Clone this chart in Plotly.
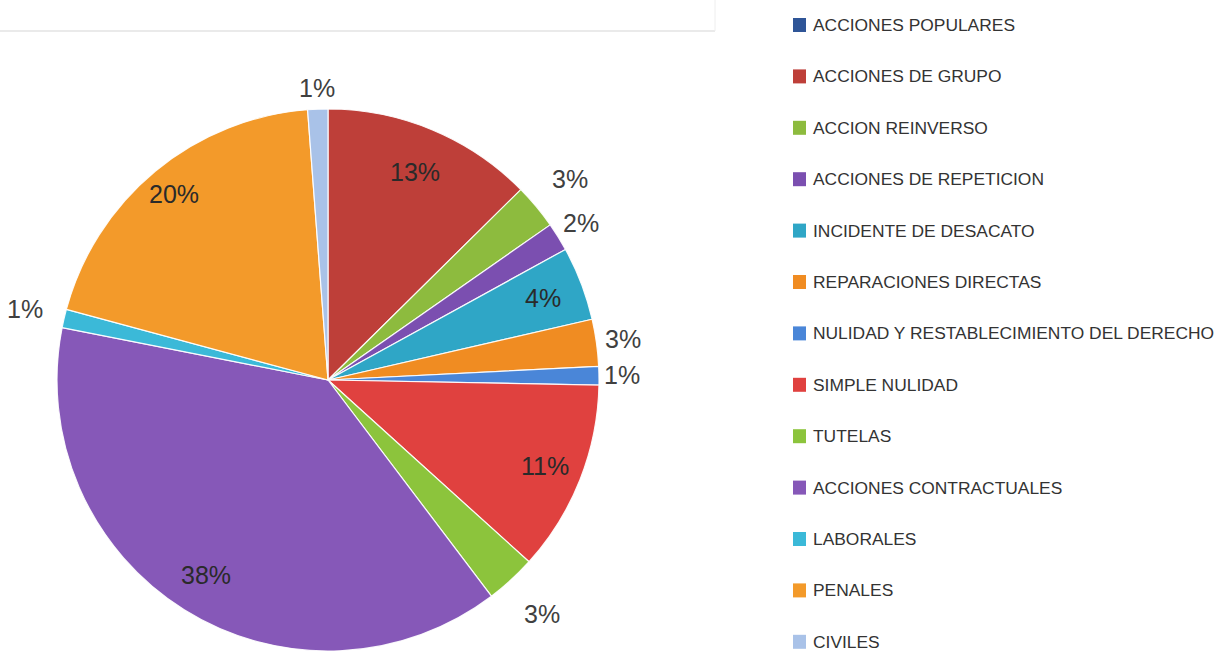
import math
import plotly.graph_objects as go

categories = [
    "ACCIONES POPULARES",
    "ACCIONES DE GRUPO",
    "ACCION REINVERSO",
    "ACCIONES DE REPETICION",
    "INCIDENTE DE DESACATO",
    "REPARACIONES DIRECTAS",
    "NULIDAD Y RESTABLECIMIENTO DEL DERECHO",
    "SIMPLE NULIDAD",
    "TUTELAS",
    "ACCIONES CONTRACTUALES",
    "LABORALES",
    "PENALES",
    "CIVILES",
]
values = [0, 12.6, 2.7, 1.7, 4.4, 2.8, 1.1, 11.4, 3.0, 38.4, 1.1, 19.6, 1.2]
colors = [
    "#2F5597", "#BE3F39", "#8DBB3E", "#7B4FB0", "#2FA6C6", "#F08C22",
    "#4A86D8", "#E0413F", "#8CC43C", "#8658B8", "#3BB9D8", "#F39A2A", "#A9C2E8",
]
# label placement (style): radial distance of each label centre, in pie radii
label_r = [0, 0.83, 1.16, 1.10, 0.85, 1.10, 1.085, 0.86, 1.17, 0.85, 1.15, 0.89, 1.08]

W, H = 1224, 651
FONT = "Liberation Sans, Arial, sans-serif"

# pie geometry in pixels
px0, px1 = 56, 600
py_top = 109
dom_x = [px0 / W, px1 / W]
dom_y = [0, 1 - py_top / H]
R = min(px1 - px0, H - py_top) / 2
cx = (px0 + px1) / 2
cy = H - R  # from top

total = sum(values)

fig = go.Figure()
fig.add_trace(go.Pie(
    labels=categories,
    values=values,
    textinfo="none",
    sort=False,
    direction="clockwise",
    rotation=0,
    marker=dict(colors=colors, line=dict(color="rgba(255,255,255,0.9)", width=1.2)),
    domain=dict(x=dom_x, y=dom_y),
    showlegend=False,
    hoverinfo="label+percent",
))

annotations = []
cum = 0.0
for v, rf in zip(values, label_r):
    start = cum
    cum += v
    if v == 0:
        continue
    mid = (start + v / 2) / total * 2 * math.pi
    x = cx + math.sin(mid) * R * rf
    y = cy - math.cos(mid) * R * rf
    inside = rf < 1
    annotations.append(dict(
        x=x / W, y=1 - y / H, xref="paper", yref="paper",
        text=f"{round(100 * v / total)}%", showarrow=False,
        xanchor="center", yanchor="middle",
        font=dict(family=FONT, size=25, color="#2a2a2a" if inside else "#404040"),
    ))

shapes = [
    dict(type="line", xref="paper", yref="paper", x0=0, x1=715 / W,
         y0=1 - 31 / H, y1=1 - 31 / H, line=dict(color="#e3e3e3", width=1.5)),
    dict(type="line", xref="paper", yref="paper", x0=715 / W, x1=715 / W,
         y0=1 - 31 / H, y1=1, line=dict(color="#eeeeee", width=1)),
]
row0, step = 25, 51.4
for i, (name, col) in enumerate(zip(categories, colors)):
    yc = row0 + step * i
    shapes.append(dict(type="rect", xref="paper", yref="paper",
                       x0=793 / W, x1=806 / W, y0=1 - (yc + 7) / H, y1=1 - (yc - 7) / H,
                       fillcolor=col, line=dict(color=col, width=0)))
    annotations.append(dict(x=811 / W, y=1 - yc / H, xref="paper", yref="paper",
                            text=name, showarrow=False, xanchor="left", yanchor="middle",
                            font=dict(family=FONT, size=17.4, color="#333333")))

fig.update_layout(
    width=W, height=H,
    margin=dict(l=0, r=0, t=0, b=0),
    paper_bgcolor="white",
    plot_bgcolor="white",
    shapes=shapes,
    annotations=annotations,
)

fig.write_html(
    "out.html",
    config={"displayModeBar": False},
    post_script="document.body.style.margin='0';document.body.style.overflow='hidden';",
)
